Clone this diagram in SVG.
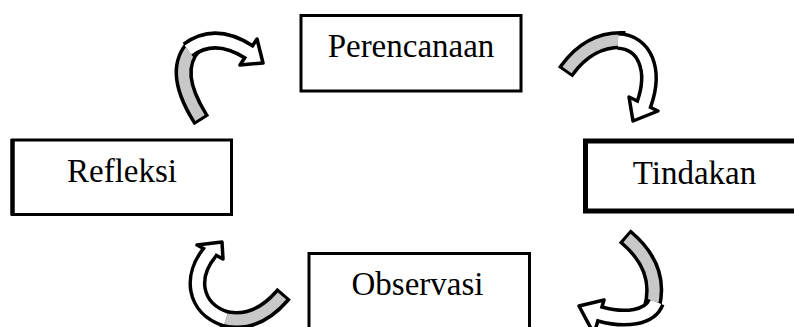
<svg xmlns="http://www.w3.org/2000/svg" width="794" height="327" viewBox="0 0 794 327">
<style>
.box{fill:#fff;stroke:#000;stroke-width:3}
.lbl{font-family:"Liberation Serif","Times New Roman",serif;font-size:33px;text-anchor:middle;fill:#000}
.out{fill:none;stroke:#000;stroke-width:18;stroke-linecap:butt}
.gray{fill:none;stroke:#c8c8c8;stroke-width:11;stroke-linecap:butt}
.white{fill:none;stroke:#fff;stroke-width:11;stroke-linecap:butt}
.head{fill:#fff;stroke:#000;stroke-width:3.5;stroke-linejoin:round}
</style>
<rect width="794" height="327" fill="#fff"/>
<g id="perencanaan">
<rect class="box" x="301" y="15.5" width="220" height="75.5"/>
<text class="lbl" x="411" y="57">Perencanaan</text>
</g>
<g id="tindakan">
<rect class="box" x="585.5" y="141" width="215" height="70" style="stroke-width:5"/>
<text class="lbl" x="694.5" y="184">Tindakan</text>
</g>
<g id="observasi">
<rect class="box" x="309" y="253.5" width="220.5" height="80"/>
<text class="lbl" x="417.5" y="295">Observasi</text>
</g>
<g id="refleksi">
<rect class="box" x="12.5" y="140" width="219" height="74.5"/>
<line x1="12.5" y1="139" x2="12.5" y2="215.5" stroke="#000" stroke-width="4.5"/>
<text class="lbl" x="122" y="182">Refleksi</text>
</g>
<g id="connectors">
<g id="arrow-refleksi-perencanaan">
<path class="out" d="M201.6,120.5 L200,118 Q170,70 195,45"/>
<path class="gray" d="M200,118 Q170,70 195,45"/>
<path class="out" d="M188,50 Q215,30 249,52"/>
<polygon class="head" points="257,39 263,63 240,65"/>
<path class="white" d="M188,50 Q215,30 249,52 L253,54.6"/>
</g>
<g id="arrow-perencanaan-tindakan">
<path class="out" d="M565.3,72.4 L567,70 Q590,38 625,40"/>
<path class="gray" d="M567,70 Q590,38 625,40"/>
<path class="out" d="M618,41 C645,42 656,70 644,104"/>
<polygon class="head" points="629,97 658,111 633,121"/>
<path class="white" d="M618,41 C645,42 656,70 644,104 L642.7,107.8"/>
</g>
<g id="arrow-tindakan-observasi">
<path class="out" d="M624.7,236 L627,238 Q662,268 652,307"/>
<path class="gray" d="M627,238 Q662,268 652,307"/>
<path class="out" d="M656,302 C650,318 625,321 600,314"/>
<polygon class="head" points="604,300 579,306 594,334"/>
<path class="white" d="M656,302 C650,318 625,321 600,314 L596.2,312.9"/>
</g>
<g id="arrow-observasi-refleksi">
<path class="out" d="M284,293.7 L282,296 Q255,327 222,318"/>
<path class="gray" d="M282,296 Q255,327 222,318"/>
<path class="out" d="M226,319 C193,308 190,276 210,252"/>
<polygon class="head" points="197,245 222,242 223,259"/>
<path class="white" d="M226,319 C193,308 190,276 210,252 L212,248.5"/>
</g>
</g>
</svg>
